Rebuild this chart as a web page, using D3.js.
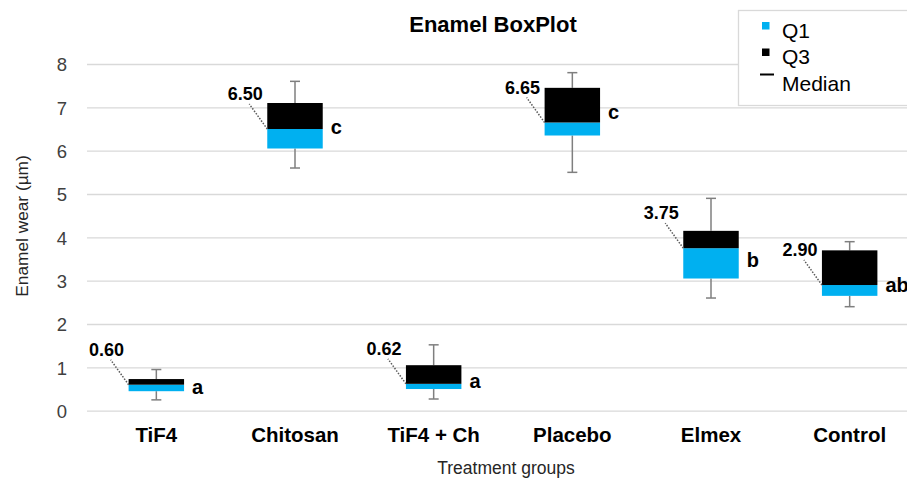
<!DOCTYPE html>
<html>
<head>
<meta charset="utf-8">
<script src="https://cdn.jsdelivr.net/npm/d3@7"></script>
<style>
body { margin: 0; background: #fff; }
svg { font-family: "Liberation Sans", Arial, sans-serif; }
</style>
</head>
<body>
<svg width="907" height="485"></svg>
<script>
// values
var groups  = ["TiF4", "Chitosan", "TiF4 + Ch", "Placebo", "Elmex", "Control"]
var minVals = [0.25, 5.60, 0.27, 5.50, 2.60, 2.40]
var q1Vals  = [0.45, 6.05, 0.50, 6.35, 3.05, 2.65]
var medians = [0.60, 6.50, 0.62, 6.65, 3.75, 2.90]
var q3Vals  = [0.73, 7.10, 1.05, 7.45, 4.15, 3.70]
var maxVals = [0.95, 7.60, 1.52, 7.80, 4.90, 3.90]
var letters = ["a", "c", "a", "c", "b", "ab"]
var letterAt = [0.55, 6.55, 0.69, 6.90, 3.48, 2.90]
var yTicks = [0, 1, 2, 3, 4, 5, 6, 7, 8]

var BLUE = "#00b0f0", DARK = "#000000", WHISK = "#7f7f7f", GRID = "#d9d9d9"

var svg = d3.select("svg")

var x = d3.scaleBand()
          .domain(groups)
          .range([87, 919])
          .padding(0)

var y = d3.scaleLinear()
          .domain([0, 8])
          .range([410.7, 64])

var boxW = x.bandwidth() * 0.4

// gridlines + y tick labels
var yAxis = svg.append("g")
   .attr("transform", "translate(87,0)")
   .call(d3.axisLeft(y)
           .tickValues(yTicks)
           .tickSize(-(919 - 87))
           .tickPadding(20)
           .tickFormat(d3.format("d")))
yAxis.select(".domain").remove()
yAxis.selectAll(".tick line").attr("stroke", GRID).attr("stroke-width", 1.3)
yAxis.selectAll(".tick text")
     .attr("fill", "#404040")
     .attr("font-size", 18.5)
     .attr("font-family", "Liberation Sans, Arial, sans-serif")
     .attr("dy", "0.36em")

// category labels
var xAxis = svg.append("g")
   .attr("transform", "translate(0,410.7)")
   .call(d3.axisBottom(x).tickSize(0).tickPadding(0))
xAxis.select(".domain").remove()
xAxis.selectAll(".tick text")
     .attr("y", 31)
     .attr("dy", 0)
     .attr("fill", "#000")
     .attr("font-size", 20.5)
     .attr("font-weight", "bold")
     .attr("font-family", "Liberation Sans, Arial, sans-serif")

var rows = groups.map(function(g, i) {
	return { name: g, min: minVals[i], q1: q1Vals[i], med: medians[i],
	         q3: q3Vals[i], max: maxVals[i], letter: letters[i], ly: letterAt[i] }
})

var box = svg.append("g").selectAll("g")
             .data(rows)
             .enter()
             .append("g")

function cx(d) { return x(d.name) + x.bandwidth() / 2 }

// whiskers
box.each(function(d) {
	var gg = d3.select(this)
	var c = cx(d)
	;[[d.q3, d.max], [d.q1, d.min]].forEach(function(p) {
		gg.append("line")
		  .attr("x1", c).attr("x2", c)
		  .attr("y1", y(p[0])).attr("y2", y(p[1]))
		  .attr("stroke", WHISK).attr("stroke-width", 1.5)
		gg.append("line")
		  .attr("x1", c - 5).attr("x2", c + 5)
		  .attr("y1", y(p[1])).attr("y2", y(p[1]))
		  .attr("stroke", WHISK).attr("stroke-width", 1.5)
	})
})

// Q1 part (blue) and Q3 part (black)
box.append("rect")
   .attr("x", function(d) { return cx(d) - boxW / 2 })
   .attr("width", boxW)
   .attr("y", function(d) { return y(d.med) })
   .attr("height", function(d) { return y(d.q1) - y(d.med) })
   .attr("fill", BLUE)

box.append("rect")
   .attr("x", function(d) { return cx(d) - boxW / 2 })
   .attr("width", boxW)
   .attr("y", function(d) { return y(d.q3) })
   .attr("height", function(d) { return y(d.med) - y(d.q3) })
   .attr("fill", DARK)

// median labels with dotted leader
box.append("line")
   .attr("x1", function(d) { return cx(d) - boxW / 2 })
   .attr("y1", function(d) { return y(d.med) })
   .attr("x2", function(d) { return cx(d) - boxW / 2 - 18 })
   .attr("y2", function(d) { return y(d.med) - 25 })
   .attr("stroke", "#595959")
   .attr("stroke-width", 1.5)
   .attr("stroke-dasharray", "1.5,1.5")

box.append("text")
   .attr("x", function(d) { return cx(d) - boxW / 2 - 22 })
   .attr("y", function(d) { return y(d.med) - 29 })
   .attr("text-anchor", "middle")
   .attr("font-size", 18)
   .attr("font-weight", "bold")
   .text(function(d) { return d3.format(".2f")(d.med) })

// significance letters
box.append("text")
   .attr("x", function(d) { return cx(d) + boxW / 2 + 8 })
   .attr("y", function(d) { return y(d.ly) + 7 })
   .attr("font-size", 20)
   .attr("font-weight", "bold")
   .text(function(d) { return d.letter })

// title
svg.append("text")
   .attr("x", 493).attr("y", 32)
   .attr("text-anchor", "middle")
   .attr("font-size", 22)
   .attr("font-weight", "bold")
   .text("Enamel BoxPlot")

// axis titles
svg.append("text")
   .attr("x", 506).attr("y", 474)
   .attr("text-anchor", "middle")
   .attr("font-size", 17.5)
   .attr("fill", "#262626")
   .text("Treatment groups")

svg.append("text")
   .attr("transform", "translate(28,226) rotate(-90)")
   .attr("text-anchor", "middle")
   .attr("font-size", 17.3)
   .attr("fill", "#262626")
   .text("Enamel wear (µm)")

// legend
var leg = svg.append("g")
leg.append("rect")
   .attr("x", 738.5).attr("y", 10.5)
   .attr("width", 180).attr("height", 95)
   .attr("fill", "#fff")
   .attr("stroke", GRID).attr("stroke-width", 1.3)

var legItems = [["Q1", BLUE], ["Q3", DARK], ["Median", null]]
legItems.forEach(function(it, i) {
	var by = 37.5 + i * 26.5
	if (it[1]) {
		leg.append("rect")
		   .attr("x", 762).attr("y", by - 15.5)
		   .attr("width", 7.5).attr("height", 7.5)
		   .attr("fill", it[1])
	} else {
		leg.append("line")
		   .attr("x1", 760).attr("x2", 774)
		   .attr("y1", by - 16).attr("y2", by - 16)
		   .attr("stroke", "#000").attr("stroke-width", 2)
	}
	leg.append("text")
	   .attr("x", 782).attr("y", by)
	   .attr("font-size", 21)
	   .attr("fill", "#000")
	   .text(it[0])
})
</script>
</body>
</html>
